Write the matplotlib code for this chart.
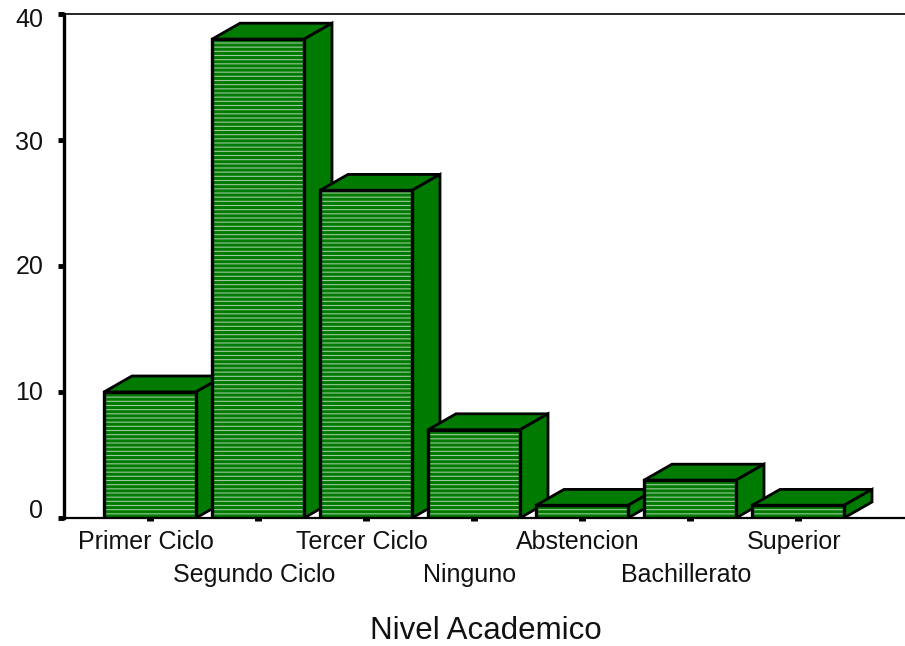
import matplotlib
matplotlib.use('Agg')
import numpy as np
import matplotlib.pyplot as plt
from matplotlib.patches import Polygon, Rectangle

plt.rcParams['font.family'] = ['Liberation Sans', 'DejaVu Sans']

niveles = ['Primer Ciclo', 'Segundo Ciclo', 'Tercer Ciclo', 'Ninguno',
           'Abstencion', 'Bachillerato', 'Superior']
valores = [10, 38, 26, 7, 1, 3, 1]
yticks = [0, 10, 20, 30, 40]

verde = '#007a00'
raya = '#9cc89c'

fig = plt.figure(figsize=(9.05, 6.46), dpi=100)
ax = fig.add_axes([64 / 905, 1 - 518 / 646, 841 / 905, 504 / 646])

# px -> data: 108 px per category, 12.6 px per unit
ax.set_xlim(-86 / 108, 755 / 108)
ax.set_ylim(0, 40)

ancho = 92 / 108
dx = 28 / 108
dy = 16 / 12.6
paso = (25 / 6) / 12.6  # stripe every ~4 px

for i, v in enumerate(valores):
    x0 = i - ancho / 2
    x1 = i + ancho / 2
    z = 3 + i
    # top and side faces first
    ax.add_patch(Polygon([(x0, v), (x0 + dx, v + dy), (x1 + dx, v + dy), (x1, v)],
                         facecolor=verde, edgecolor='black', linewidth=2, zorder=z))
    ax.add_patch(Polygon([(x1, 0), (x1 + dx, dy), (x1 + dx, v + dy), (x1, v)],
                         facecolor=verde, edgecolor='black', linewidth=2, zorder=z))
    # striped front
    ax.add_patch(Rectangle((x0, 0), ancho, v, facecolor=verde, linewidth=0, zorder=z))
    ax.hlines(np.arange(paso, v, paso), x0, x1, color=raya, linewidth=0.8, zorder=z, snap=False)
    ax.add_patch(Rectangle((x0, 0), ancho, v, fill=False, edgecolor='black',
                           linewidth=2.4, zorder=z))

ax.spines['right'].set_visible(False)
ax.spines['left'].set_linewidth(2.4)
ax.spines['bottom'].set_linewidth(1.6)
ax.spines['top'].set_linewidth(1.2)

ax.set_yticks(yticks)
ax.set_yticklabels([])
ax.set_xticks(range(len(niveles)))
ax.set_xticklabels([])
ax.tick_params(axis='y', length=4.5, width=3.5, direction='out')
ax.tick_params(axis='x', length=2.5, width=5, direction='out')

# y labels sit a little inside at both ends
offs = {0: 5, 10: -1, 20: -1, 30: -2, 40: -4}
for t in yticks:
    ax.annotate(str(t), (0, t), xycoords=('axes fraction', 'data'),
                xytext=(-15, offs[t]), textcoords='offset points',
                ha='right', va='center', fontsize=18, color='#111111')

# staggered category labels
for i, n in enumerate(niveles):
    fila = 1 if i % 2 else 0
    ax.annotate(n, (i, 0), xycoords=('data', 'axes fraction'),
                xytext=(-3, -17 - fila * 24), textcoords='offset points',
                ha='center', va='center', fontsize=18, color='#111111')

fig.text(486 / 905, 1 - 631 / 646, 'Nivel Academico', ha='center', va='center',
         fontsize=22.5, color='#111111')

fig.savefig('out.png', dpi=100)
